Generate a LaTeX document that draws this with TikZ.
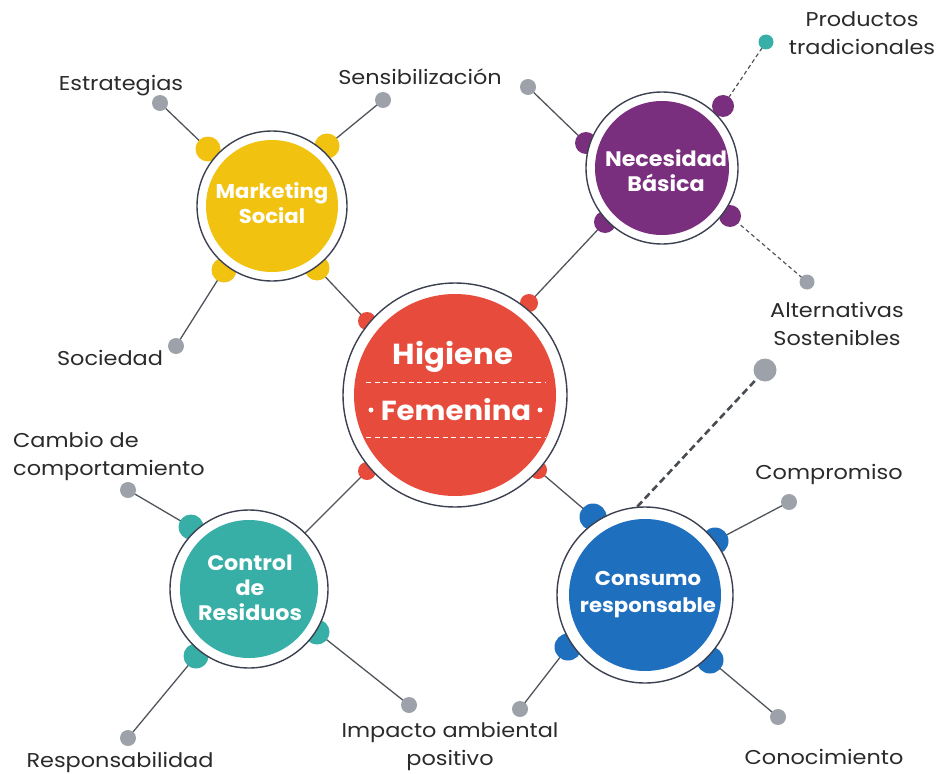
\documentclass[tikz,border=0pt]{standalone}
\usepackage{fontspec}
\setmainfont{Poppins}
\newfontfamily\lblfont{Poppins}[FakeStretch=1.12]
\newfontfamily\cfont{Poppins}[FakeStretch=1.06]
\definecolor{hred}{HTML}{E64B3C}
\definecolor{hyellow}{HTML}{F1C20F}
\definecolor{hpurple}{HTML}{7A2E7E}
\definecolor{hblue}{HTML}{1F6FBF}
\definecolor{hteal}{HTML}{38AFA6}
\definecolor{dotgray}{HTML}{9DA2AA}
\definecolor{linecol}{HTML}{50555C}
\definecolor{ringcol}{HTML}{3C4150}
\definecolor{labelcol}{HTML}{2A2A2A}
\pgfdeclarelayer{bg}
\pgfdeclarelayer{mid}
\pgfsetlayers{bg,mid,main}
\tikzset{
  conn/.style={draw=linecol, line width=1.3pt},
  dconn/.style={draw=linecol, line width=1.2pt, dash pattern=on 4pt off 3pt},
  tconn/.style={draw=linecol!90!black, line width=2.6pt, dash pattern=on 7pt off 4pt},
  gdot/.style={circle, fill=dotgray, inner sep=0pt, minimum size=16pt},
  bump/.style={circle, inner sep=0pt, minimum size=#1},
  ringc/.style={circle, draw=ringcol, line width=1.4pt, fill=white, inner sep=0pt},
  diskc/.style={circle, inner sep=0pt, text=white, align=center},
  lbl/.style={text=labelcol, font=\lblfont\fontsize{20}{28}\selectfont, align=center, inner sep=0pt},
  ctext/.style={text=white, font=\cfont\bfseries\fontsize{20}{25}\selectfont, align=center, inner sep=0pt},
}
\begin{document}
\begin{tikzpicture}[x=1pt,y=-1pt]
\useasboundingbox (0,0) rectangle (936,773);

% ---------- rings and disks ----------
\node[ringc, minimum size=224pt] (hfring) at (455,395) {};
\node[diskc, fill=hred, minimum size=202pt] (hf) at (455,395) {};
\node[ringc, minimum size=150pt] (msring) at (272,206) {};
\node[diskc, fill=hyellow, minimum size=132pt] (ms) at (272,206) {};
\node[ringc, minimum size=152pt] (nbring) at (662,168) {};
\node[diskc, fill=hpurple, minimum size=134pt] (nb) at (662,168) {};
\node[ringc, minimum size=176pt] (csring) at (645,595) {};
\node[diskc, fill=hblue, minimum size=152pt] (cs) at (645,595) {};
\node[ringc, minimum size=158pt] (crring) at (249,589) {};
\node[diskc, fill=hteal, minimum size=138pt] (cr) at (249,589) {};

% ---------- circle texts ----------
\node[text=white, font=\cfont\bfseries\fontsize{29}{32}\selectfont, inner sep=0pt] (hft1) at (453,357) {Higiene};
\node[text=white, font=\cfont\bfseries\fontsize{27.5}{32}\selectfont, inner sep=0pt] (hft2) at (456,410) {Femenina};
\node[circle, fill=white, inner sep=0pt, minimum size=5pt] (hfd1) at (371,410) {};
\node[circle, fill=white, inner sep=0pt, minimum size=5pt] (hfd2) at (540,410) {};
\coordinate (hl1a) at (366,382); \coordinate (hl1b) at (545,382);
\coordinate (hl2a) at (366,437); \coordinate (hl2b) at (545,437);
\draw[white, line width=1pt, dash pattern=on 5pt off 3.5pt] (hl1a) -- (hl1b);
\draw[white, line width=1pt, dash pattern=on 5pt off 3.5pt] (hl2a) -- (hl2b);

\node[ctext] (mst) at (272,203) {Marketing\\Social};
\node[ctext, font=\cfont\bfseries\fontsize{21}{25}\selectfont] (nbt) at (666,171) {Necesidad\\Básica};
\node[ctext, font=\cfont\bfseries\fontsize{20}{27}\selectfont] (cst) at (648,595) {Consumo\\responsable};
\node[ctext, font=\cfont\bfseries\fontsize{21}{25}\selectfont] (crt) at (250,588) {Control\\de\\Residuos};

% ---------- bumps ----------
\begin{pgfonlayer}{mid}
\node[bump=18pt, fill=hred] (c1) at (367,321) {};
\node[bump=18pt, fill=hred] (c2) at (529,303) {};
\node[bump=18pt, fill=hred] (c3) at (367,471) {};
\node[bump=18pt, fill=hred] (c4) at (538,470) {};
\node[bump=25pt, fill=hyellow] (ms1) at (208,149) {};
\node[bump=25pt, fill=hyellow] (ms2) at (327,146) {};
\node[bump=25pt, fill=hyellow] (ms3) at (224,270) {};
\node[bump=25pt, fill=hyellow] (ms4) at (317,268) {};
\node[bump=22pt, fill=hpurple] (nb1) at (586,143) {};
\node[bump=22pt, fill=hpurple] (nb2) at (723,106) {};
\node[bump=22pt, fill=hpurple] (nb3) at (605,222) {};
\node[bump=22pt, fill=hpurple] (nb4) at (730,216) {};
\node[bump=27pt, fill=hblue] (cs1) at (593,517) {};
\node[bump=27pt, fill=hblue] (cs2) at (715,541) {};
\node[bump=27pt, fill=hblue] (cs3) at (568,647) {};
\node[bump=27pt, fill=hblue] (cs4) at (710,660) {};
\node[bump=25pt, fill=hteal] (cr1) at (191,527) {};
\node[bump=25pt, fill=hteal] (cr2) at (317,632) {};
\node[bump=25pt, fill=hteal] (cr3) at (196,656) {};
\end{pgfonlayer}

% ---------- end dots ----------
\node[gdot] (dEst) at (160,103) {};
\node[gdot] (dSen1) at (383,100) {};
\node[gdot] (dSoc) at (176,346) {};
\node[gdot] (dSen2) at (528,87) {};
\node[circle, fill=hteal, inner sep=0pt, minimum size=15pt] (dProd) at (766,42) {};
\node[gdot, minimum size=15pt] (dAlt) at (807,282) {};
\node[gdot, minimum size=23pt] (dAlt2) at (765,370) {};
\node[gdot] (dComp) at (789,502) {};
\node[gdot] (dCon) at (778,717) {};
\node[gdot] (dImp2) at (520,709) {};
\node[gdot] (dImp) at (409,705) {};
\node[gdot] (dCam) at (128,490) {};
\node[gdot] (dRes) at (128,738) {};

% ---------- connectors ----------
\begin{pgfonlayer}{bg}
\draw[conn] (dEst.center) -- (ms1.center);
\draw[conn] (dSen1.center) -- (ms2.center);
\draw[conn] (dSoc.center) -- (ms3.center);
\draw[conn] (ms4.center) -- (c1.center);
\draw[conn] (dSen2.center) -- (nb1.center);
\draw[dconn] (dProd.center) -- (nb2.center);
\draw[conn] (nb3.center) -- (c2.center);
\draw[dconn] (nb4.center) -- (dAlt.center);
\draw[conn] (c3.center) -- (crring.center);
\draw[conn] (dCam.center) -- (cr1.center);
\draw[conn] (dRes.center) -- (cr3.center);
\draw[conn] (cr2.center) -- (dImp.center);
\draw[conn] (c4.center) -- (cs1.center);
\draw[conn] (cs2.center) -- (dComp.center);
\draw[conn] (cs3.center) -- (dImp2.center);
\draw[conn] (cs4.center) -- (dCon.center);
\end{pgfonlayer}
\draw[tconn] (csring.95) -- (dAlt2);

% ---------- labels ----------
\node[lbl] (lEst) at (121,86) {Estrategias};
\node[lbl] (lSen) at (420,77) {Sensibilización};
\node[lbl] (lSoc) at (110,358) {Sociedad};
\node[lbl] (lProd) at (862,33) {Productos\\tradicionales};
\node[lbl] (lAlt) at (837,324) {Alternativas\\Sostenibles};
\node[lbl, align=left, anchor=west] (lCam) at (13,456) {Cambio de\\comportamiento};
\node[lbl] (lComp) at (829,474) {Compromiso};
\node[lbl] (lImp) at (450,746) {Impacto ambiental\\positivo};
\node[lbl] (lRes) at (120,762) {Responsabilidad};
\node[lbl] (lCon) at (824,757) {Conocimiento};
\end{tikzpicture}
\end{document}
